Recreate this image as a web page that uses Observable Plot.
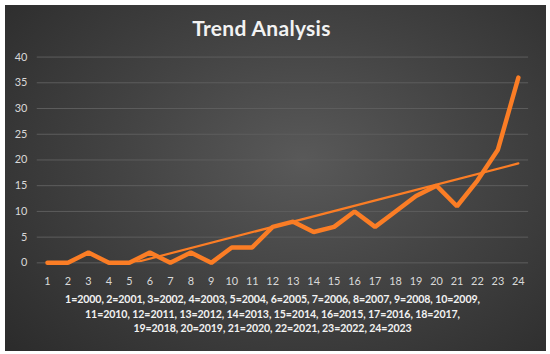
<!DOCTYPE html>
<html>
<head>
<meta charset="utf-8">
<script src="https://cdn.jsdelivr.net/npm/d3@7"></script>
<script src="https://cdn.jsdelivr.net/npm/@observablehq/plot@0.6"></script>
<style>
  html, body { margin: 0; padding: 0; background: #ffffff; }
  #frame {
    position: absolute; left: 5px; top: 5px; width: 541px; height: 346px;
    background: radial-gradient(ellipse 75% 85% at 55% 45%, #595959 0%, #434343 45%, #2a2a2a 100%);
    overflow: hidden;
  }
  #title {
    position: absolute; left: -14px; top: 10px; width: 541px; text-align: center;
    font-family: Lato, "Open Sans", sans-serif; font-weight: 700; font-size: 21px;
    color: #f2f2f2; letter-spacing: 0.3px;
  }
  #chart { position: absolute; left: -5px; top: 35px; }
  #caption {
    position: absolute; left: -3px; top: 287px; width: 541px; text-align: center;
    font-family: Lato, "Open Sans", sans-serif; font-weight: 700; font-size: 10.6px;
    letter-spacing: -0.1px; line-height: 14.5px; color: #f2f2f2;
  }
</style>
</head>
<body>
<div id="frame">
  <div id="title">Trend Analysis</div>
  <div id="chart"></div>
  <div id="caption"></div>
</div>
<script>
const periods = [1,2,3,4,5,6,7,8,9,10,11,12,13,14,15,16,17,18,19,20,21,22,23,24];
const values  = [0,0,2,0,0,2,0,2,0,3,3,7,8,6,7,10,7,10,13,15,11,16,22,36];
const years   = [2000,2001,2002,2003,2004,2005,2006,2007,2008,2009,2010,2011,2012,2013,2014,2015,2016,2017,2018,2019,2020,2021,2022,2023];
const yTicks  = [0,5,10,15,20,25,30,35,40];
const captionBreaks = [10, 18];

const data = periods.map((p, i) => ({x: p, y: values[i]}));
const orange = "#fb7d25";

const plot = Plot.plot({
  width: 550,
  height: 260,
  marginLeft: 37,
  marginRight: 18,
  marginTop: 16.7,
  marginBottom: 36,
  style: {background: "transparent", color: "#d9d9d9", fontFamily: "Lato, 'Open Sans', sans-serif", fontSize: "11px"},
  x: {domain: [0.5, 24.5], label: null},
  y: {domain: [0, 40], label: null},
  marks: [
    Plot.gridY(yTicks, {stroke: "#5e5e5e", strokeOpacity: 1, strokeWidth: 1}),
    Plot.axisX({ticks: periods, tickFormat: d => String(d), tickSize: 0, tickPadding: 14, fill: "#d9d9d9", label: null}),
    Plot.axisY({ticks: yTicks, tickSize: 0, tickPadding: 10, fill: "#d9d9d9", label: null}),
    Plot.line(data, {x: "x", y: "y", stroke: orange, strokeWidth: 4.5, strokeLinejoin: "miter"}),
    Plot.linearRegressionY(data, {x: "x", y: "y", stroke: orange, strokeWidth: 2.2, ci: 0, clip: true})
  ]
});
document.getElementById("chart").appendChild(plot);

const entries = periods.map((p, i) => `${p}=${years[i]}`);
const lines = [entries.slice(0, captionBreaks[0]), entries.slice(captionBreaks[0], captionBreaks[1]), entries.slice(captionBreaks[1])];
document.getElementById("caption").innerHTML = lines.map((l, i) => l.join(", ") + (i < lines.length - 1 ? "," : "")).join("<br>");
</script>
</body>
</html>
